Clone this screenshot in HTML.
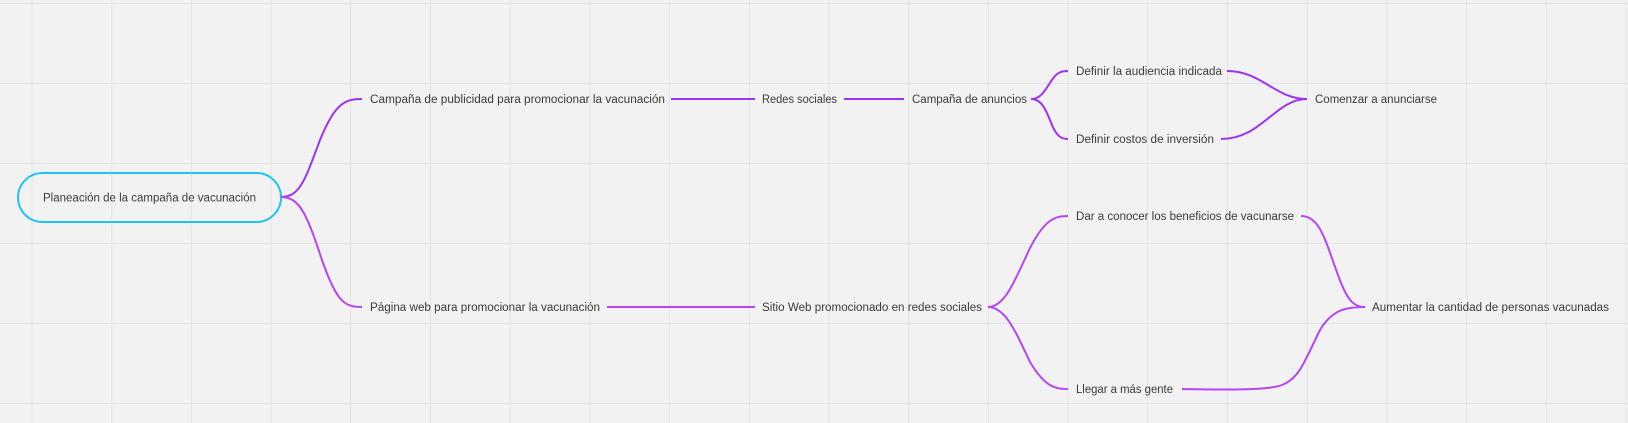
<!DOCTYPE html>
<html><head><meta charset="utf-8"><style>
html,body{margin:0;padding:0;background:#f2f2f2;}
svg{display:block}
text{font-family:"Liberation Sans",sans-serif;font-size:11.5px;fill:#3a3a3a;}
</style></head><body>
<svg width="1628" height="423" xmlns="http://www.w3.org/2000/svg">
<rect width="1628" height="423" fill="#f2f2f2"/>
<g stroke="#e4e4e4" stroke-width="1">
<path d="M32 0V423M111.7 0V423M191.4 0V423M271.1 0V423M350.8 0V423M430.5 0V423M510.2 0V423M589.9 0V423M669.6 0V423M749.3 0V423M829 0V423M908.7 0V423M988.4 0V423M1068.1 0V423M1147.8 0V423M1227.5 0V423M1307.2 0V423M1386.9 0V423M1466.6 0V423M1546.3 0V423M1626 0V423"/>
<path d="M0 3.5H1628M0 83.5H1628M0 163.5H1628M0 243.5H1628M0 323.5H1628M0 403.5H1628"/>
</g>
<rect x="18" y="173" width="263" height="49" rx="24.5" fill="none" stroke="#1ec3f5" stroke-width="2"/>
<text x="149.5" y="201.5" text-anchor="middle" textLength="213" lengthAdjust="spacingAndGlyphs">Planeación de la campaña de vacunación</text>
<g fill="none" stroke-width="2">
<g stroke="#9b33f5">
<path d="M281 197C300 197 305 180 320 140C335 103 345 99 362 99"/>
<path d="M671 99H755M844 99H904"/>
<path d="M1031 99C1042 99 1046 88 1052 80C1057 72 1062 71 1068 71"/>
<path d="M1031 99C1042 99 1046 110 1052 125C1057 137 1062 139 1068 139"/>
<path d="M1227 71C1262 71 1275 99 1307 99"/>
<path d="M1221 139C1262 139 1275 99 1307 99"/>
</g>
<g stroke="#b645f5">
<path d="M281 197C300 197 307 215 322 260C337 303 345 307 362 307"/>
<path d="M607 307H755"/>
<path d="M988 307C1005 307 1015 280 1030 248C1045 219 1055 216 1068 216"/>
<path d="M988 307C1005 307 1015 330 1030 362C1045 387 1055 389 1068 389"/>
<path d="M1301 216C1320 216 1325 240 1338 275C1348 303 1355 307 1365 307"/>
<path d="M1182 389C1230 390 1270 390 1282 385C1300 378 1305 360 1320 330C1332 310 1345 307 1365 307"/>
</g>
</g>
<text x="370" y="103" textLength="295" lengthAdjust="spacingAndGlyphs">Campaña de publicidad para promocionar la vacunación</text>
<text x="762" y="103" textLength="75" lengthAdjust="spacingAndGlyphs">Redes sociales</text>
<text x="912" y="103" textLength="115" lengthAdjust="spacingAndGlyphs">Campaña de anuncios</text>
<text x="1076" y="75" textLength="146" lengthAdjust="spacingAndGlyphs">Definir la audiencia indicada</text>
<text x="1076" y="143" textLength="138" lengthAdjust="spacingAndGlyphs">Definir costos de inversión</text>
<text x="1315" y="103" textLength="122" lengthAdjust="spacingAndGlyphs">Comenzar a anunciarse</text>
<text x="370" y="311" textLength="230" lengthAdjust="spacingAndGlyphs">Página web para promocionar la vacunación</text>
<text x="762" y="311" textLength="220" lengthAdjust="spacingAndGlyphs">Sitio Web promocionado en redes sociales</text>
<text x="1076" y="220" textLength="218" lengthAdjust="spacingAndGlyphs">Dar a conocer los beneficios de vacunarse</text>
<text x="1076" y="393" textLength="97" lengthAdjust="spacingAndGlyphs">Llegar a más gente</text>
<text x="1372" y="311" textLength="237" lengthAdjust="spacingAndGlyphs">Aumentar la cantidad de personas vacunadas</text>
</svg>
</body></html>
